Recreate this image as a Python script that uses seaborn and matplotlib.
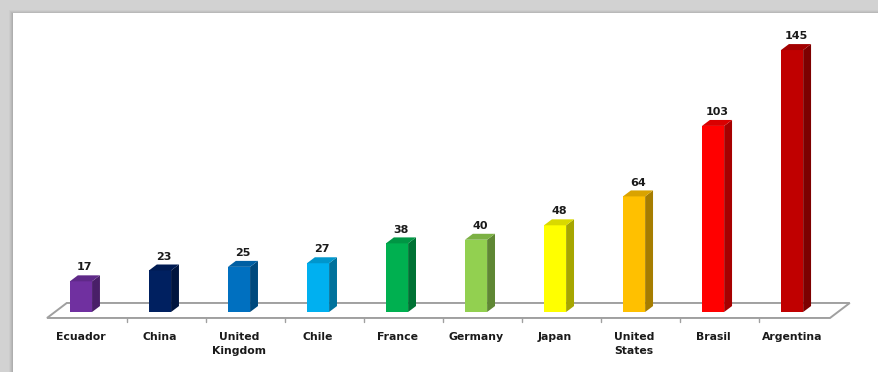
import numpy as np
import matplotlib
matplotlib.use("Agg")
import matplotlib.pyplot as plt
import matplotlib.colors as mcolors
from matplotlib.patches import Polygon, Rectangle
import seaborn as sns

# data
countries = ["Ecuador", "China", "United\nKingdom", "Chile", "France",
             "Germany", "Japan", "United\nStates", "Brasil", "Argentina"]
values = [17, 23, 25, 27, 38, 40, 48, 64, 103, 145]
colors = ["#7030a0", "#002060", "#0070c0", "#00b0f0", "#00b050",
          "#92d050", "#ffff00", "#ffc000", "#ff0000", "#c00000"]

sns.set_theme(style="white")
plt.rcParams["font.family"] = ["DejaVu Sans"]

fig = plt.figure(figsize=(8.79, 3.72), dpi=100)
fig.patch.set_facecolor("#d2d2d2")

# white panel with a soft shadow on top/left
W, H = 879, 372
for i, a in enumerate([0.08, 0.12, 0.16, 0.22]):
    fig.patches.append(Rectangle(((9 + i) / W, 0), 1, (362 - i) / H,
                                 transform=fig.transFigure, facecolor="#8a8a8a",
                                 alpha=a, edgecolor="none", zorder=0))
fig.patches.append(Rectangle((13 / W, 0), 1, 359 / H, transform=fig.transFigure,
                             facecolor="white", edgecolor="none", zorder=1))

ax = fig.add_axes([0, 0, 1, 1])
ax.set_facecolor("none")
ax.set_zorder(2)

df = {"country": countries, "value": values}
sns.barplot(x="country", y="value", hue="country", data=df, palette=colors,
            legend=False, width=0.28, saturation=1, ax=ax, zorder=4,
            linewidth=0)
bars = sorted([p for p in ax.patches if isinstance(p, Rectangle)],
              key=lambda p: p.get_x())

ax.set_xlim(-1.025, 10.1)
ax.set_ylim(-33.2, 172.7)
ax.axis("off")

dx, dy = 0.1, 3.3

# floor
floor = Polygon([(-0.43, -3.3), (-0.18, 5.0), (9.73, 5.0), (9.48, -3.3)],
                closed=True, facecolor="white", edgecolor="#a0a0a0",
                linewidth=1.4, zorder=3)
ax.add_patch(floor)
for i in range(len(countries) - 1):
    ax.plot([i + 0.58, i + 0.58], [-3.3, -5.3], color="#a0a0a0", lw=1, zorder=3)

def shade(c, f):
    r, g, b = mcolors.to_rgb(c)
    return (r * f, g * f, b * f)

for p, v, c in zip(bars, values, colors):
    x0 = p.get_x()
    x1 = x0 + p.get_width()
    side = Polygon([(x1, 0), (x1 + dx, dy), (x1 + dx, v + dy), (x1, v)],
                   closed=True, facecolor=shade(c, 0.65), edgecolor="none", zorder=4)
    top = Polygon([(x0, v), (x0 + dx, v + dy), (x1 + dx, v + dy), (x1, v)],
                  closed=True, facecolor=shade(c, 0.85), edgecolor="none", zorder=4)
    ax.add_patch(side)
    ax.add_patch(top)
    ax.text((x0 + x1 + dx) / 2, v + dy + 1.6, str(v), ha="center", va="bottom",
            fontsize=8, fontweight="bold", color="#1a1a1a", zorder=5)

for i, name in enumerate(countries):
    ax.text(i, -11.2, name, ha="center", va="top", fontsize=7.8,
            fontweight="bold", color="#1a1a1a", linespacing=1.5, zorder=5)

fig.savefig("out.png", dpi=100, facecolor=fig.get_facecolor())
